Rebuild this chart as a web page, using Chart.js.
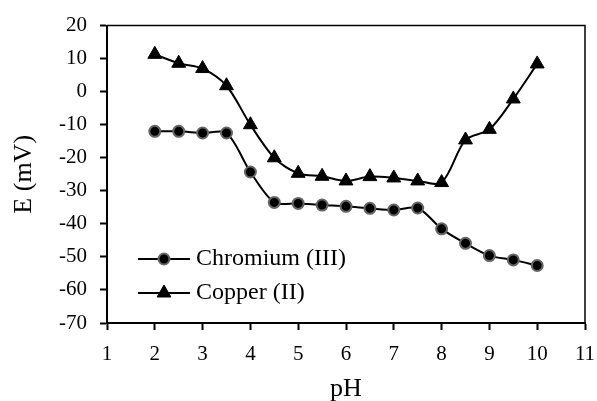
<!DOCTYPE html>
<html>
<head>
<meta charset="utf-8">
<script src="https://cdn.jsdelivr.net/npm/chart.js@4/dist/chart.umd.min.js"></script>
<style>
  html, body { margin: 0; padding: 0; background: #fff; }
  #wrap { width: 597px; height: 401px; }
</style>
</head>
<body>
<div id="wrap"><canvas id="chart" width="597" height="401"></canvas></div>
<script>
// pH values and electrode potentials (mV)
const phValues = [2, 2.5, 3, 3.5, 4, 4.5, 5, 5.5, 6, 6.5, 7, 7.5, 8, 8.5, 9, 9.5, 10];
const chromium = [-12, -12, -12.5, -12.5, -24.3, -33.5, -33.8, -34.3, -34.7, -35.3, -35.8, -35.2, -41.5, -45.9, -49.6, -50.9, -52.6];
const copper = [11.3, 8.6, 7, 1.8, -10, -20, -24.7, -25.6, -27, -25.7, -26.1, -27, -27.5, -14.6, -11.4, -2.2, 8.4];

const xTicks = [1, 2, 3, 4, 5, 6, 7, 8, 9, 10, 11];
const yTicks = [-70, -60, -50, -40, -30, -20, -10, 0, 10, 20];

const serif = "'Liberation Serif', 'Times New Roman', serif";

const toPoints = vals => vals.map((v, i) => ({ x: phValues[i], y: v }));

// frame on top and right edges of the plot area
const frame = {
    id: 'frame',
    afterDraw(chart) {
        const { ctx, chartArea: a } = chart;
        ctx.save();
        ctx.strokeStyle = '#000';
        ctx.lineWidth = 1.5;
        ctx.beginPath();
        ctx.moveTo(a.left, a.top);
        ctx.lineTo(a.right, a.top);
        ctx.lineTo(a.right, a.bottom);
        ctx.stroke();
        ctx.restore();
    }
};

// legend sits inside the plot, bottom-left, with a line through each marker
const innerLegend = {
    id: 'innerLegend',
    afterDraw(chart) {
        const ctx = chart.ctx;
        const rows = [259, 293];
        ctx.save();
        chart.data.datasets.forEach((ds, i) => {
            const y = rows[i];
            ctx.strokeStyle = '#000';
            ctx.lineWidth = 2;
            ctx.beginPath();
            ctx.moveTo(138, y);
            ctx.lineTo(190, y);
            ctx.stroke();
            ctx.fillStyle = ds.pointBackgroundColor;
            ctx.strokeStyle = ds.pointBorderColor;
            ctx.lineWidth = ds.pointBorderWidth;
            Chart.helpers.drawPoint(ctx, {
                pointStyle: ds.pointStyle,
                radius: ds.pointRadius,
                rotation: 0,
                borderWidth: ds.pointBorderWidth
            }, 164, y);
            ctx.fillStyle = '#000';
            ctx.font = '24px ' + serif;
            ctx.textBaseline = 'middle';
            ctx.textAlign = 'left';
            ctx.fillText(ds.label, 196, y);
        });
        ctx.restore();
    }
};

new Chart(document.getElementById('chart').getContext('2d'), {
    type: 'line',
    data: {
        datasets: [
            {
                label: 'Chromium (III)',
                data: toPoints(chromium),
                borderColor: '#000',
                borderWidth: 2,
                tension: 0.3,
                pointStyle: 'circle',
                pointRadius: 5.5,
                pointBackgroundColor: '#000',
                pointBorderColor: '#666',
                pointBorderWidth: 2
            },
            {
                label: 'Copper (II)',
                data: toPoints(copper),
                borderColor: '#000',
                borderWidth: 2,
                tension: 0.3,
                pointStyle: 'triangle',
                pointRadius: 8,
                pointBackgroundColor: '#000',
                pointBorderColor: '#000',
                pointBorderWidth: 1
            }
        ]
    },
    options: {
        animation: false,
        responsive: false,
        layout: { padding: { top: 24, right: 12, left: 0, bottom: 0 } },
        plugins: {
            legend: { display: false },
            tooltip: { enabled: false }
        },
        scales: {
            x: {
                type: 'linear',
                min: 1,
                max: 11,
                afterBuildTicks: scale => { scale.ticks = xTicks.map(v => ({ value: v })); },
                afterFit: scale => {
                    scale.height = 78;
                    scale.paddingRight = 0;
                    scale.paddingLeft = 0;
                },
                border: { color: '#000', width: 2 },
                grid: { drawOnChartArea: false, drawTicks: true, tickLength: 7, color: '#000', tickWidth: 2 },
                ticks: { color: '#000', padding: 12, font: { family: serif, size: 21 } },
                title: { display: true, text: 'pH', color: '#000', font: { family: serif, size: 26, lineHeight: 0.8 }, padding: { top: 0, bottom: 1 } }
            },
            y: {
                min: -70,
                max: 20,
                afterBuildTicks: scale => { scale.ticks = yTicks.map(v => ({ value: v })); },
                afterFit: scale => { scale.width = 107; },
                border: { color: '#000', width: 2 },
                grid: { drawOnChartArea: false, drawTicks: true, tickLength: 7, color: '#000', tickWidth: 2 },
                ticks: { color: '#000', padding: 13, font: { family: serif, size: 21 } },
                title: { display: true, text: 'E (mV)', color: '#000', font: { family: serif, size: 26 }, padding: { top: 9, bottom: 0 } }
            }
        }
    },
    plugins: [frame, innerLegend]
});
</script>
</body>
</html>
